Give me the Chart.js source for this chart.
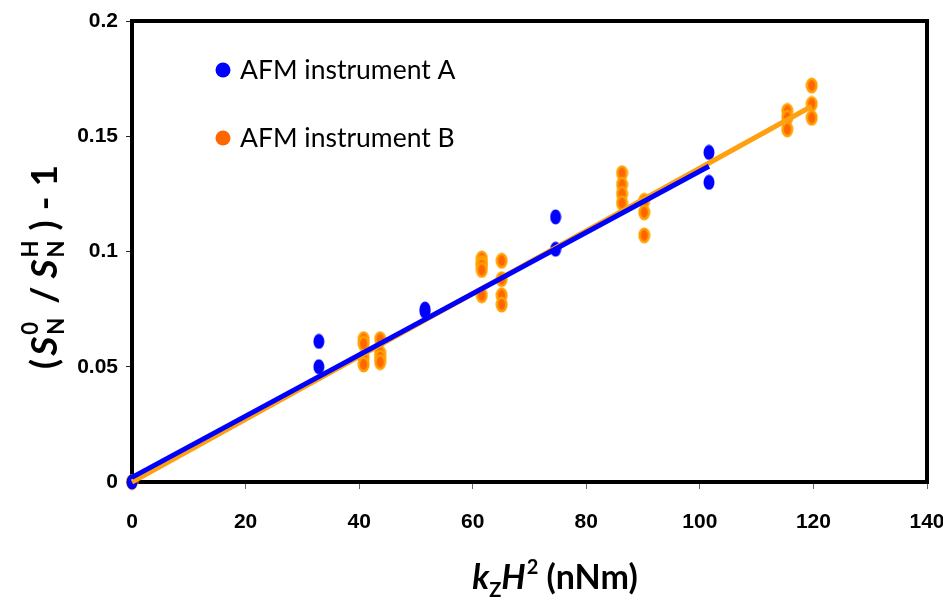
<!DOCTYPE html>
<html>
<head>
<meta charset="utf-8">
<script src="https://cdn.jsdelivr.net/npm/chart.js@4.4.1/dist/chart.umd.min.js"></script>
<style>
  html, body { margin: 0; padding: 0; background: #fff; }
  #wrap { width: 943px; height: 598px; position: relative; }
</style>
</head>
<body>
<div id="wrap"><canvas id="chart"></canvas></div>
<script>
// series names
const seriesNames = ['AFM instrument A', 'AFM instrument B'];

// AFM instrument A measurements
const aX = [0, 32.9, 32.9, 51.6, 51.6, 74.6, 74.6, 101.6, 101.6];
const aY = [0, 0.061, 0.050, 0.075, 0.074, 0.115, 0.101, 0.143, 0.130];

// AFM instrument B measurements
const bX = [0, 40.8, 40.8, 40.8, 40.8, 43.7, 43.7, 43.7, 43.7,
  61.6, 61.6, 61.6, 61.6, 61.6, 65.1, 65.1, 65.1, 65.1,
  86.3, 86.3, 86.3, 86.3, 90.2, 90.2, 90.2,
  115.4, 115.4, 115.4, 119.7, 119.7, 119.7];
const bY = [0, 0.062, 0.060, 0.054, 0.051, 0.062, 0.056, 0.054, 0.052,
  0.097, 0.095, 0.094, 0.092, 0.081, 0.096, 0.088, 0.081, 0.077,
  0.134, 0.129, 0.125, 0.121, 0.122, 0.117, 0.107,
  0.161, 0.158, 0.153, 0.172, 0.164, 0.158];

// linear fits
const fitAX = [0, 101.6];
const fitAY = [0.002, 0.137];
const fitBX = [0, 119.7];
const fitBY = [0, 0.163];

// axis ticks
const xTicks = [0, 20, 40, 60, 80, 100, 120, 140];
const yTicks = [0, 0.05, 0.1, 0.15, 0.2];

const blue = '#0000ff';
const orangeFill = '#ff6600';
const orangeEdge = '#ffa200';
const orangeLine = '#ffa010';

function toPoints(xs, ys) {
  return xs.map((x, i) => ({ x: x, y: ys[i] }));
}

// ellipse shaped markers (the original markers are a bit taller than wide)
function ellipseMarker(w, h, fill, stroke, lw) {
  const c = document.createElement('canvas');
  c.width = w;
  c.height = h;
  const g = c.getContext('2d');
  g.beginPath();
  g.ellipse(w / 2, h / 2, w / 2 - lw / 2 - 0.5, h / 2 - lw / 2 - 0.5, 0, 0, Math.PI * 2);
  g.fillStyle = fill;
  g.fill();
  if (lw > 0) {
    g.lineWidth = lw;
    g.strokeStyle = stroke;
    g.stroke();
  }
  return c;
}

const markerA = ellipseMarker(12, 16, blue, blue, 0);
const markerB = ellipseMarker(13, 17, orangeFill, orangeEdge, 2.5);

// text runs: {t, font, dy, gap} or {stack:[sub, sup], dy:[..]}
function runWidth(ctx, r) {
  ctx.font = r.font;
  if (r.stack) {
    return Math.max(ctx.measureText(r.stack[0]).width, ctx.measureText(r.stack[1]).width);
  }
  return ctx.measureText(r.t).width;
}

function drawRuns(ctx, runs, x, y) {
  let cx = x;
  runs.forEach(r => {
    ctx.font = r.font;
    if (r.stack) {
      ctx.fillText(r.stack[0], cx, y + r.dy[0]);
      ctx.fillText(r.stack[1], cx, y + r.dy[1]);
    } else {
      ctx.fillText(r.t, cx, y + (r.dy || 0));
    }
    cx += runWidth(ctx, r) + (r.gap || 0);
  });
}

function totalWidth(ctx, runs) {
  return runs.reduce((s, r) => s + runWidth(ctx, r) + (r.gap || 0), 0);
}

const decorPlugin = {
  id: 'decor',
  beforeDatasetsDraw(chart) {
    const { ctx, chartArea } = chart;
    ctx.save();
    ctx.strokeStyle = '#000';
    ctx.lineWidth = 4;
    ctx.strokeRect(chartArea.left, chartArea.top, chartArea.right - chartArea.left, chartArea.bottom - chartArea.top);
    ctx.restore();
  },
  afterDraw(chart) {
    const { ctx } = chart;
    ctx.save();
    ctx.fillStyle = '#000';
    ctx.textBaseline = 'alphabetic';

    // x axis title
    const big = 'bold 34px Lato, "Open Sans", sans-serif';
    const bigI = 'italic bold 34px Lato, "Open Sans", sans-serif';
    const small = 'bold 20px Lato, "Open Sans", sans-serif';
    const xRuns = [
      { t: 'k', font: bigI },
      { t: 'Z', font: small, dy: 8 },
      { t: 'H', font: bigI, gap: 1 },
      { t: '2', font: small, dy: -15 },
      { t: ' (nNm)', font: big }
    ];
    const xw = totalWidth(ctx, xRuns);
    drawRuns(ctx, xRuns, 555 - xw / 2, 589);

    // y axis title
    const ybig = 'bold 37px Lato, "Open Sans", sans-serif';
    const ybigI = 'italic bold 37px Lato, "Open Sans", sans-serif';
    const ysmall = 'bold 22px Lato, "Open Sans", sans-serif';
    const yRuns = [
      { t: '(', font: ybig, gap: 3 },
      { t: 'S', font: ybigI, gap: 2 },
      { stack: ['N', '0'], font: ysmall, dy: [7, -19], gap: 14 },
      { t: '/', font: ybig, gap: 8 },
      { t: 'S', font: ybigI, gap: 2 },
      { stack: ['N', 'H'], font: ysmall, dy: [7, -19], gap: 10 },
      { t: ')', font: ybig, gap: 10 },
      { t: '-', font: ybig, gap: 10 },
      { t: '1', font: ybig }
    ];
    const yw = totalWidth(ctx, yRuns);
    ctx.translate(57, 267);
    ctx.rotate(-Math.PI / 2);
    drawRuns(ctx, yRuns, -yw / 2, 0);
    ctx.restore();

    // legend
    ctx.save();
    ctx.font = '26.5px Lato, "Open Sans", sans-serif';
    const legendColors = [blue, orangeFill];
    const legendY = [70, 138];
    seriesNames.forEach((name, i) => {
      ctx.beginPath();
      ctx.arc(223, legendY[i], 7.5, 0, Math.PI * 2);
      ctx.fillStyle = legendColors[i];
      ctx.fill();
      ctx.fillStyle = '#000';
      ctx.fillText(name, 240, legendY[i] + 9);
    });
    ctx.restore();
  }
};

const tickFont = { family: '"Liberation Sans Narrow", "Liberation Sans", Arial, sans-serif', size: 21, weight: 'bold' };

new Chart(document.getElementById('chart'), {
  type: 'scatter',
  data: {
    datasets: [
      {
        type: 'line',
        data: toPoints(fitAX, fitAY),
        borderColor: blue,
        borderWidth: 5,
        pointRadius: 0,
        fill: false,
        order: 0,
        clip: false
      },
      {
        type: 'line',
        data: toPoints(fitBX, fitBY),
        borderColor: orangeLine,
        borderWidth: 5,
        pointRadius: 0,
        fill: false,
        order: 1,
        clip: false
      },
      {
        label: seriesNames[0],
        data: toPoints(aX, aY),
        pointStyle: markerA,
        order: 2,
        clip: false
      },
      {
        label: seriesNames[1],
        data: toPoints(bX, bY),
        pointStyle: markerB,
        order: 3,
        clip: false
      }
    ]
  },
  options: {
    responsive: true,
    maintainAspectRatio: false,
    animation: false,
    layout: { padding: { top: 21, right: 16, left: 0, bottom: 0 } },
    plugins: {
      legend: { display: false },
      tooltip: { enabled: false }
    },
    scales: {
      x: {
        type: 'linear',
        min: 0,
        max: 140,
        afterBuildTicks: axis => { axis.ticks = xTicks.map(v => ({ value: v })); },
        afterFit: axis => {
          axis.height = 598 - 482;
          axis.paddingLeft = 0;
          axis.paddingRight = 0;
        },
        border: { display: false },
        grid: { drawOnChartArea: false, drawTicks: true, tickLength: 7, color: '#666' },
        ticks: { font: tickFont, color: '#000', padding: 21 }
      },
      y: {
        type: 'linear',
        min: 0,
        max: 0.2,
        afterBuildTicks: axis => { axis.ticks = yTicks.map(v => ({ value: v })); },
        afterFit: axis => {
          axis.width = 132;
          axis.paddingTop = 0;
          axis.paddingBottom = 0;
        },
        border: { display: false },
        grid: { drawOnChartArea: false, drawTicks: true, tickLength: 6, color: '#222' },
        ticks: {
          font: tickFont,
          color: '#000',
          padding: 8,
          callback: v => String(Math.round(v * 100) / 100)
        }
      }
    }
  },
  plugins: [decorPlugin]
});
</script>
</body>
</html>
